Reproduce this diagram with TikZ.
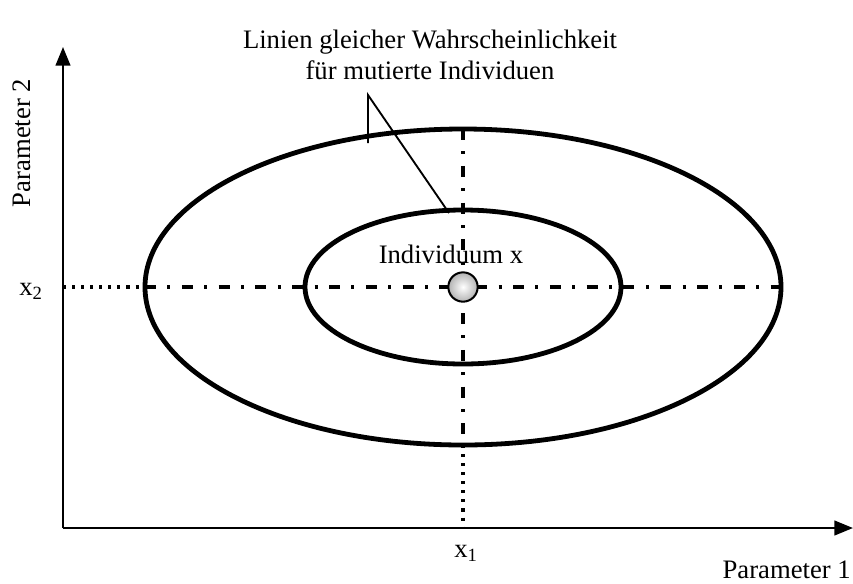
\documentclass[tikz,border=0pt]{standalone}
\usepackage{fontspec}
\setmainfont{Liberation Serif}
\usetikzlibrary{arrows.meta}
\begin{document}
\begin{tikzpicture}[x=0.75pt,y=-0.75pt,
  axis/.style={line width=1.7pt,-{Triangle[length=14pt,width=11pt]}},
  ell/.style={line width=3.6pt},
  dashdot/.style={line width=2.3pt,dash pattern=on 8.3pt off 8.5pt on 2.3pt off 8.5pt},
  dotline/.style={line width=2.3pt,dash pattern=on 2.3pt off 4.5pt},
  leader/.style={line width=1.4pt},
  lbl/.style={font=\fontsize{20}{23}\selectfont,inner sep=0pt}]
\useasboundingbox (0,0) rectangle (853,583);
\coordinate (O) at (63,528);
\coordinate (ytip) at (63,47);
\coordinate (xtip) at (853,528);
\coordinate (c) at (463,287);
% dotted/dash-dot guide lines
\draw[dotline] (63,287) -- (145,287);
\draw[dashdot] (145,287) -- (781,287);
\draw[dashdot] (463,129) -- (463,445);
\draw[dotline] (463,445) -- (463,528);
% axes
\draw[axis] (O) -- (ytip);
\draw[axis] (O) -- (xtip);
% ellipses
\draw[ell] (c) ellipse [x radius=318, y radius=158];
\draw[ell] (c) ellipse [x radius=158, y radius=77];
% individual
\node[circle,draw,line width=1.5pt,minimum size=22pt,inner sep=0pt,inner color=white,outer color=gray!60] (ind) at (c) {};
% leader
\coordinate (l1) at (368,143);
\coordinate (l2) at (368,95);
\coordinate (l3) at (449,213);
\draw[leader] (l1) -- (l2) -- (l3);
% labels
\node[lbl,align=center] (title) at (430,55) {Linien gleicher Wahrscheinlichkeit\\für mutierte Individuen};
\node[lbl] (indl) at (451,254) {Individuum x};
\node[lbl] (x2) at (31,291) {x\textsubscript{2}};
\node[lbl] (x1) at (466,553) {x\textsubscript{1}};
\node[lbl,anchor=base east] (p1) at (851,578) {Parameter 1};
\node[lbl,rotate=90] (p2) at (22,143) {Parameter 2};
\end{tikzpicture}
\end{document}
